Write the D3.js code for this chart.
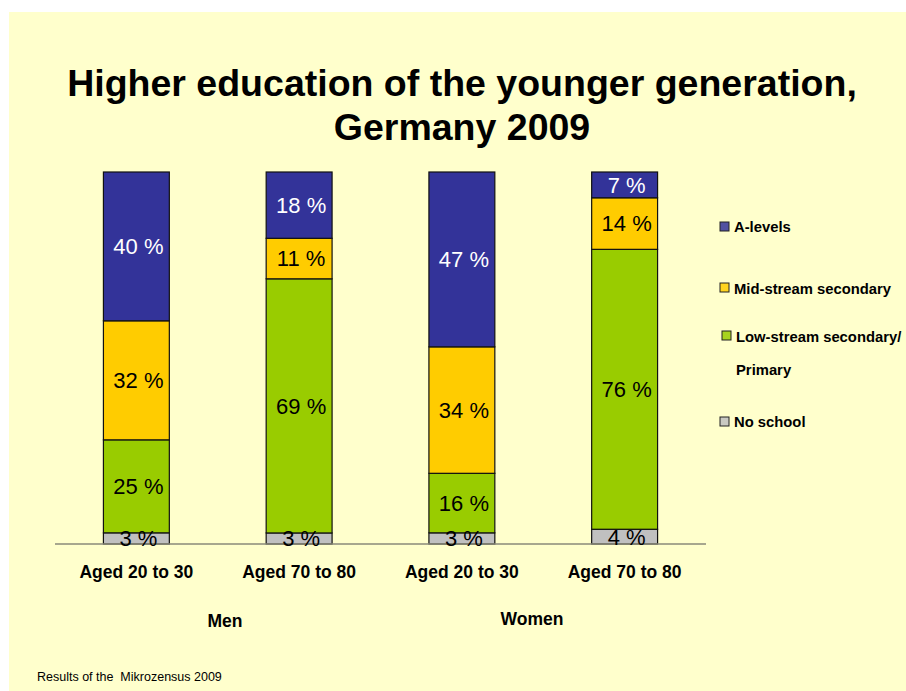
<!DOCTYPE html>
<html>
<head>
<meta charset="utf-8">
<script src="https://cdn.jsdelivr.net/npm/d3@7"></script>
<style>
  html, body { margin: 0; padding: 0; background: #ffffff; }
  svg { display: block; }
  text { font-family: "Liberation Sans", Arial, sans-serif; }
</style>
</head>
<body>
<svg id="chart" width="906" height="691"></svg>
<script>
// ---- data ----
const categories = ["Aged 20 to 30", "Aged 70 to 80", "Aged 20 to 30", "Aged 70 to 80"];
const groups = ["Men", "Women"];
const seriesNames = ["No school", "Low-stream secondary/ Primary", "Mid-stream secondary", "A-levels"];
const noSchool   = [3, 3, 3, 4];
const lowStream  = [25, 69, 16, 76];
const midStream  = [32, 11, 34, 14];
const aLevels    = [40, 18, 47, 7];
const titleLines = ["Higher education of the younger generation,", "Germany 2009"];
const footnote = "Results of the  Mikrozensus 2009";

// ---- styles ----
const colors = {
  "No school": "#C0C0C0",
  "Low-stream secondary/ Primary": "#99CC00",
  "Mid-stream secondary": "#FFCC00",
  "A-levels": "#333399"
};

const svg = d3.select("#chart");
svg.append("rect").attr("x", 9).attr("y", 12).attr("width", 906 - 9).attr("height", 691 - 12).attr("fill", "#FFFFCC");

// title
svg.selectAll("text.title").data(titleLines).join("text")
  .attr("class", "title")
  .attr("x", 462).attr("y", (d, i) => 96 + i * 44)
  .attr("text-anchor", "middle")
  .attr("font-size", "37.5px").attr("font-weight", "bold").attr("fill", "#000")
  .text(d => d);

// table
const rows = categories.map((c, i) => ({
  key: i,
  "No school": noSchool[i],
  "Low-stream secondary/ Primary": lowStream[i],
  "Mid-stream secondary": midStream[i],
  "A-levels": aLevels[i]
}));
const stack = d3.stack().keys(seriesNames).offset(d3.stackOffsetExpand);
const stacked = stack(rows);

const x = d3.scaleBand().domain(d3.range(categories.length)).range([55, 706]).paddingInner(0.595).paddingOuter(0.2975);
const y = d3.scaleLinear().domain([0, 1]).range([544, 172]);

const layer = svg.append("g").selectAll("g").data(stacked).join("g")
  .attr("fill", d => colors[d.key]);
layer.selectAll("rect").data(d => d).join("rect")
  .attr("x", (d, i) => x(i))
  .attr("width", x.bandwidth())
  .attr("y", d => y(d[1]))
  .attr("height", d => y(d[0]) - y(d[1]))
  .attr("stroke", "#111").attr("stroke-width", 1.2);

// baseline axis
svg.append("line").attr("x1", 55).attr("x2", 706).attr("y1", 544).attr("y2", 544)
  .attr("stroke", "#8a8a7a").attr("stroke-width", 1.5);

// value labels
stacked.forEach(s => {
  svg.append("g").selectAll("text").data(s).join("text")
    .attr("x", (d, i) => x(i) + x.bandwidth() / 2 + 2)
    .attr("y", d => (y(d[0]) + y(d[1])) / 2)
    .attr("dy", "0.36em")
    .attr("text-anchor", "middle")
    .attr("font-size", "22px")
    .attr("fill", s.key === "A-levels" ? "#ffffff" : "#000000")
    .text(d => d.data[s.key] + " %");
});

// category axis
const xAxis = d3.axisBottom(x).tickSize(0).tickFormat(i => categories[i]);
const ax = svg.append("g").attr("transform", "translate(0,544)").call(xAxis);
ax.select(".domain").remove();
ax.selectAll("text").attr("y", 34).attr("dy", 0)
  .attr("font-size", "17.5px").attr("font-weight", "bold").attr("fill", "#000")
  .style("font-family", '"Liberation Sans", Arial, sans-serif');

// group labels
const groupX = [225, 532];
const groupY = [627, 625];
svg.selectAll("text.group").data(groups).join("text")
  .attr("class", "group")
  .attr("x", (d, i) => groupX[i]).attr("y", (d, i) => groupY[i])
  .attr("text-anchor", "middle")
  .attr("font-size", "17.5px").attr("font-weight", "bold").attr("fill", "#000")
  .text(d => d);

// legend
const legendItems = [
  { key: "A-levels", lines: ["A-levels"], sx: 720, sy: 222, tx: 734, ty: 232 },
  { key: "Mid-stream secondary", lines: ["Mid-stream secondary"], sx: 720, sy: 283, tx: 734, ty: 294 },
  { key: "Low-stream secondary/ Primary", lines: ["Low-stream secondary/", "Primary"], sx: 722, sy: 331, tx: 736, ty: 342 },
  { key: "No school", lines: ["No school"], sx: 720, sy: 417, tx: 734, ty: 427 }
];
const lg = svg.append("g").selectAll("g").data(legendItems).join("g");
lg.append("rect")
  .attr("x", d => d.sx).attr("y", d => d.sy).attr("width", 9).attr("height", 9)
  .attr("fill", d => colors[d.key]).attr("fill-opacity", 0.85)
  .attr("stroke", "#222").attr("stroke-width", 1);
lg.each(function(d) {
  d3.select(this).selectAll("text").data(d.lines).join("text")
    .attr("x", d.tx).attr("y", (l, i) => d.ty + i * 32.5)
    .attr("font-size", "14.8px").attr("font-weight", "bold").attr("fill", "#000")
    .text(l => l);
});

// footnote
svg.append("text").attr("x", 37).attr("y", 681)
  .attr("font-size", "12.5px").attr("fill", "#000")
  .attr("xml:space", "preserve").style("white-space", "pre")
  .text(footnote);
</script>
</body>
</html>
